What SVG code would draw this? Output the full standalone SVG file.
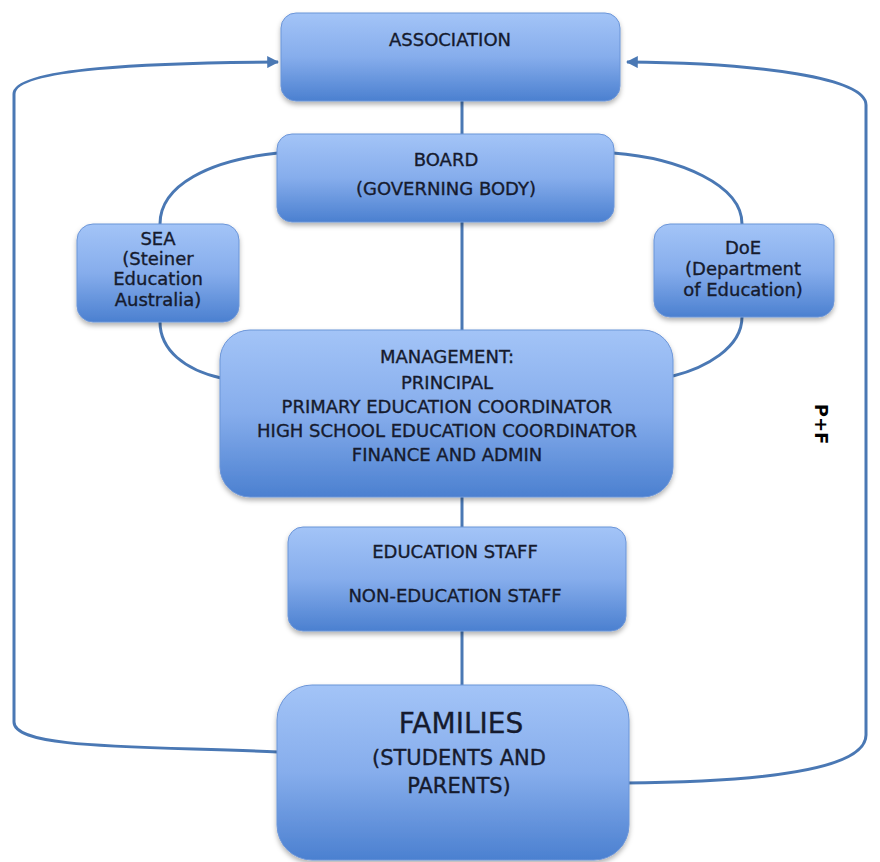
<svg xmlns="http://www.w3.org/2000/svg" width="880" height="862" viewBox="0 0 880 862">
<defs>
<linearGradient id="g" x1="0" y1="0" x2="0" y2="1">
<stop offset="0" stop-color="#a3c4f7"/>
<stop offset="0.5" stop-color="#86adec"/>
<stop offset="1" stop-color="#4b80d0"/>
</linearGradient>
<filter id="sh" x="-10%" y="-10%" width="120%" height="130%">
<feDropShadow dx="0" dy="3" stdDeviation="2.5" flood-color="#000" flood-opacity="0.3"/>
</filter>
<marker id="ah" viewBox="0 0 10 10" refX="9" refY="5" markerWidth="4" markerHeight="4" orient="auto" markerUnits="strokeWidth">
<path d="M0,0 L10,5 L0,10 z" fill="#4a78b4"/>
</marker>
</defs>
<style>
.box{fill:url(#g);stroke:#6b95d8;stroke-width:1;filter:url(#sh)}
.t{font-family:"DejaVu Sans","Liberation Sans",sans-serif;font-size:18px;fill:#161b2e;stroke:#161b2e;stroke-width:0.35;text-anchor:middle}
.c{fill:none;stroke:#4a78b4;stroke-width:3}
</style>
<rect width="880" height="862" fill="#ffffff"/>
<g id="connectors">
<line class="c" x1="462" y1="100" x2="462" y2="135"/>
<line class="c" x1="462" y1="222" x2="462" y2="331"/>
<line class="c" x1="462" y1="496" x2="462" y2="528"/>
<line class="c" x1="462" y1="631" x2="462" y2="686"/>
<path class="c" d="M278,153 C210,160 160,185 160,224"/>
<path class="c" d="M160,322 C160,350 185,370 221,378"/>
<path class="c" d="M613,153 C680,158 742,185 742,224"/>
<path class="c" d="M742,317 C742,348 705,368 673,376"/>
<path class="c" marker-end="url(#ah)" d="M278,752 C150,746 14,750 14,722 L14,94 C14,68 150,63 278,62"/>
<path class="c" marker-end="url(#ah)" d="M625,783 C760,782 866,770 866,735 L866,105 C866,78 760,63 627,62"/>
</g>
<g id="association">
<rect class="box" x="281" y="13" width="339" height="88" rx="15"/>
<text class="t" x="450" y="46">ASSOCIATION</text>
</g>
<g id="board">
<rect class="box" x="277" y="134" width="337" height="88" rx="15"/>
<text class="t" x="446" y="166">BOARD</text>
<text class="t" x="446" y="195">(GOVERNING BODY)</text>
</g>
<g id="sea">
<rect class="box" x="77" y="224" width="162" height="98" rx="16"/>
<text class="t" x="158" y="245">SEA</text>
<text class="t" x="158" y="265">(Steiner</text>
<text class="t" x="158" y="285">Education</text>
<text class="t" x="158" y="306">Australia)</text>
</g>
<g id="doe">
<rect class="box" x="654" y="224" width="180" height="93" rx="16"/>
<text class="t" x="743" y="254">DoE</text>
<text class="t" x="743" y="275">(Department</text>
<text class="t" x="743" y="296">of Education)</text>
</g>
<g id="management">
<rect class="box" x="220" y="330" width="453" height="167" rx="30"/>
<text class="t" x="447" y="363">MANAGEMENT:</text>
<text class="t" x="447" y="389">PRINCIPAL</text>
<text class="t" x="447" y="413">PRIMARY EDUCATION COORDINATOR</text>
<text class="t" x="447" y="437">HIGH SCHOOL EDUCATION COORDINATOR</text>
<text class="t" x="447" y="461">FINANCE AND ADMIN</text>
</g>
<g id="staff">
<rect class="box" x="288" y="527" width="338" height="104" rx="15"/>
<text class="t" x="455" y="558">EDUCATION STAFF</text>
<text class="t" x="455" y="602">NON-EDUCATION STAFF</text>
</g>
<g id="families">
<rect class="box" x="277" y="685" width="352" height="175" rx="35"/>
<text class="t" x="461" y="733" style="font-size:28px">FAMILIES</text>
<text class="t" x="459" y="765" style="font-size:21px">(STUDENTS AND</text>
<text class="t" x="459" y="793" style="font-size:21px">PARENTS)</text>
</g>
<text class="t" x="0" y="0" transform="translate(815,424) rotate(90)" style="font-weight:bold;font-size:18px;fill:#000;stroke:none">P+F</text>
</svg>
